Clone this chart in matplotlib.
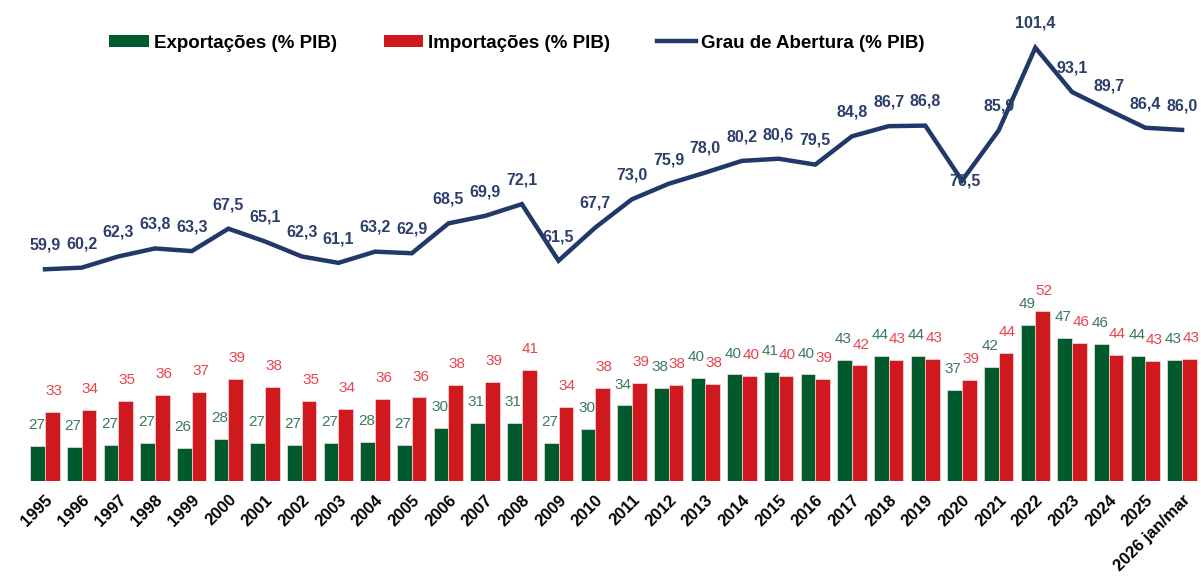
import matplotlib
matplotlib.use("Agg")
import matplotlib.pyplot as plt
from matplotlib.patches import Patch
from matplotlib.lines import Line2D

plt.rcParams['font.family'] = ['Liberation Sans', 'DejaVu Sans']

years = ['1995', '1996', '1997', '1998', '1999', '2000', '2001', '2002', '2003', '2004',
         '2005', '2006', '2007', '2008', '2009', '2010', '2011', '2012', '2013', '2014',
         '2015', '2016', '2017', '2018', '2019', '2020', '2021', '2022', '2023', '2024',
         '2025', '2026 jan/mar']
exports = [26.8, 26.6, 27.0, 27.4, 26.4, 28.1, 27.3, 27.0, 27.3, 27.6, 27.0, 30.2, 31.1, 31.1,
           27.3, 30.0, 34.4, 37.6, 39.6, 40.2, 40.6, 40.2, 42.9, 43.7, 43.7, 37.3, 41.6, 49.4,
           47.0, 45.9, 43.7, 42.9]
imports = [33.1, 33.6, 35.3, 36.4, 36.9, 39.4, 37.8, 35.3, 33.8, 35.6, 35.9, 38.3, 38.8, 41.0,
           34.2, 37.7, 38.6, 38.3, 38.4, 40.0, 40.0, 39.3, 41.9, 43.0, 43.1, 39.2, 44.3, 52.0,
           46.1, 43.8, 42.7, 43.1]
grau = [59.9, 60.2, 62.3, 63.8, 63.3, 67.5, 65.1, 62.3, 61.1, 63.2, 62.9, 68.5, 69.9, 72.1,
        61.5, 67.7, 73.0, 75.9, 78.0, 80.2, 80.6, 79.5, 84.8, 86.7, 86.8, 76.5, 85.9, 101.4,
        93.1, 89.7, 86.4, 86.0]

C_EXP = '#005a2b'
C_IMP = '#d0181f'
C_EXP_TXT = '#3a7a5a'
C_IMP_TXT = '#e8434f'
C_LINE = '#22386b'
C_LINE_TXT = '#2c3e6b'

W, H = 1201, 578
fig = plt.figure(figsize=(W / 100, H / 100), dpi=100)
ax = fig.add_axes([0, 97 / H, 1, 481 / H])

x = list(range(len(years)))
bw = 0.4
ax.bar([i - 0.2 for i in x], exports, width=bw, bottom=0, color=C_EXP,
       edgecolor='#f3dede', linewidth=0.5, zorder=2)
ax.bar([i + 0.2 for i in x], imports, width=bw, bottom=0, color=C_IMP,
       edgecolor='#f3dede', linewidth=0.5, zorder=2)
ax.plot(x, grau, color=C_LINE, linewidth=3.2, zorder=3, solid_joinstyle='miter')

for i in x:
    ax.annotate(f"{exports[i]:.0f}", (i - 0.2, exports[i]), xytext=(-1, 10),
                textcoords='offset points', ha='center', va='bottom',
                fontsize=11, color=C_EXP_TXT, zorder=4)
    ax.annotate(f"{imports[i]:.0f}", (i + 0.2, imports[i]), xytext=(1, 10),
                textcoords='offset points', ha='center', va='bottom',
                fontsize=11, color=C_IMP_TXT, zorder=4)

for i in x:
    if i == 25:
        xt, va = (2, 0), 'center'
    else:
        xt, va = (0, 12), 'bottom'
    ax.annotate(f"{grau[i]:.1f}".replace('.', ','), (i, grau[i]), xytext=xt,
                textcoords='offset points', ha='center', va=va,
                fontsize=11.5, fontweight='bold', color=C_LINE_TXT, zorder=5)

ax.set_xlim(-45 / 36.68, (W - 45) / 36.68)
ax.set_ylim(20.25, 20.25 + 481 / 5.34)
ax.set_xticks(x)
ax.set_xticklabels(years, rotation=45, ha='right', va='top', rotation_mode='anchor',
                   fontsize=12, fontweight='bold', color='black')
ax.tick_params(axis='x', length=0, pad=8)
ax.set_yticks([])
for s in ax.spines.values():
    s.set_visible(False)

handles = [Patch(facecolor=C_EXP, edgecolor='none'),
           Patch(facecolor=C_IMP, edgecolor='none'),
           Line2D([0], [0], color=C_LINE, linewidth=3.2)]
labels = ['Exportações (% PIB)', 'Importações (% PIB)', 'Grau de Abertura (% PIB)']
fig.legend(handles, labels, ncol=3, loc='center', bbox_to_anchor=(517 / W, 1 - 43 / H),
           frameon=False, prop={'weight': 'bold', 'size': 13.5}, handlelength=2.1,
           handleheight=0.65, handletextpad=0.27, columnspacing=2.5)

fig.savefig('out.png', dpi=100)
